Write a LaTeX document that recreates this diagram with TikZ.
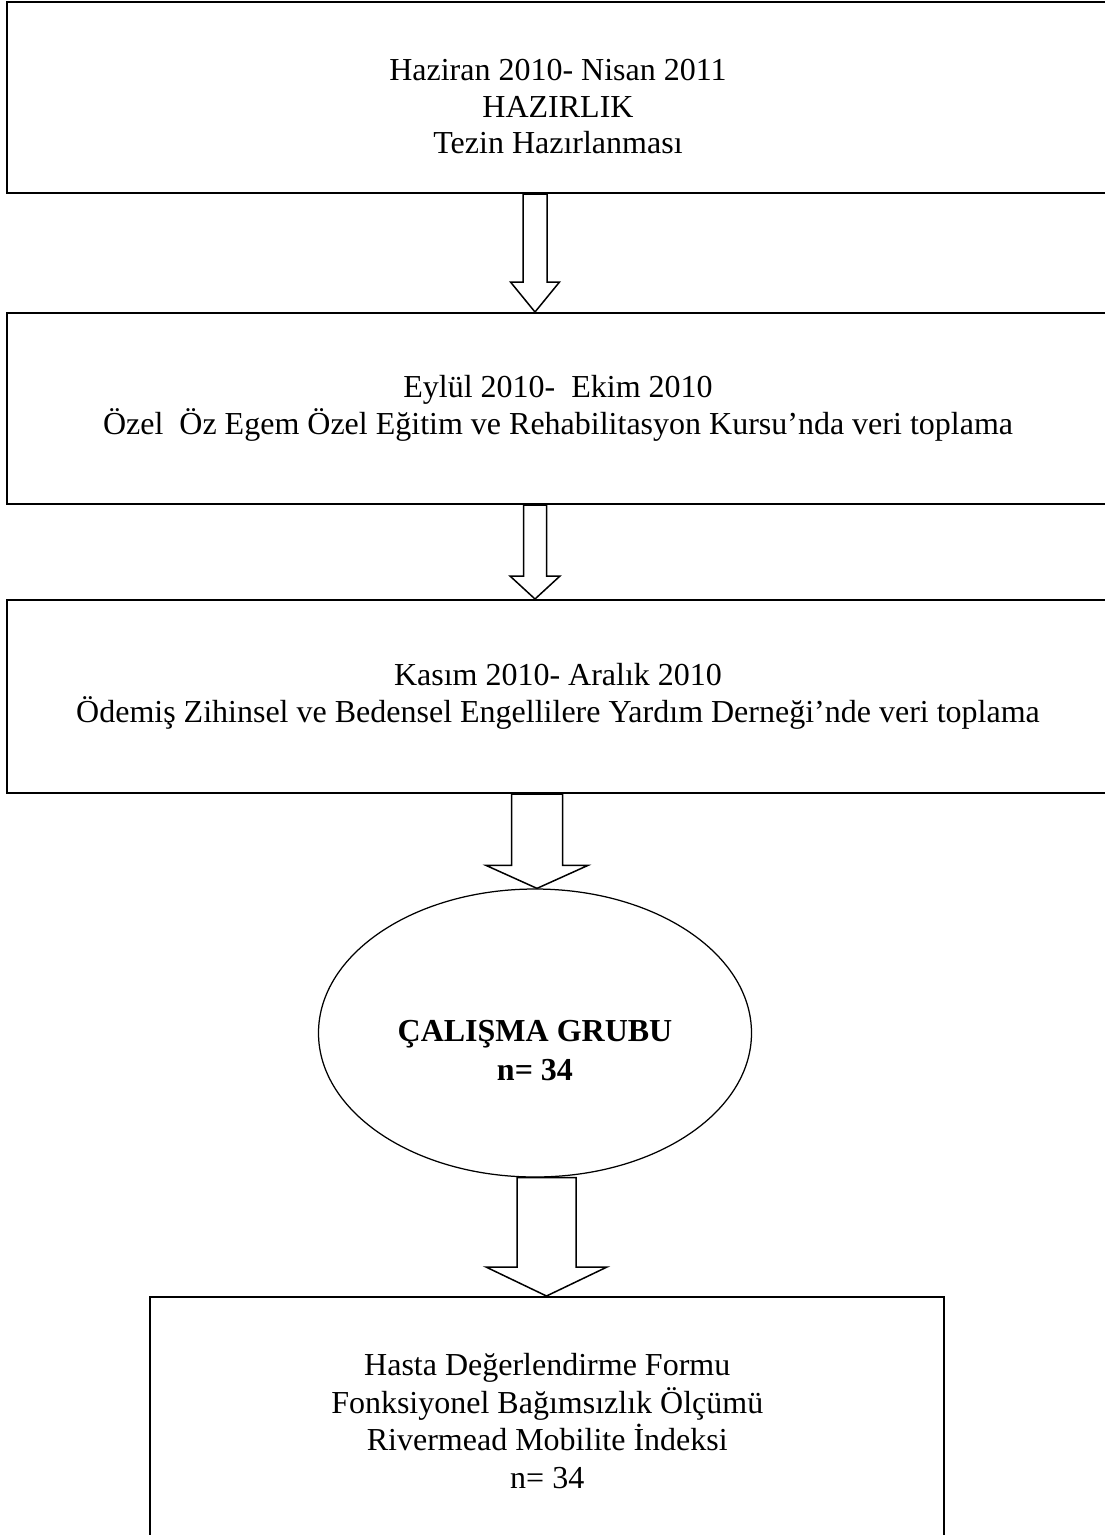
\documentclass[tikz,border=0pt]{standalone}
\usepackage{fontspec}
\setmainfont{Liberation Serif}
\usetikzlibrary{shapes.geometric}

\begin{document}
\begin{tikzpicture}[
  x=0.4pt, y=-0.4pt,
  font=\fontsize{12.8pt}{14.6pt}\selectfont,
  box/.style={draw, line width=0.8pt, align=center, inner sep=0pt},
  stage/.style={box, minimum width=440.8pt, minimum height=76.4pt},
  result/.style={box, minimum width=317.4pt, minimum height=99.2pt, font=\fontsize{12.8pt}{15pt}\selectfont},
  group/.style={draw, ellipse, line width=0.5pt, inner sep=0pt, minimum width=173.2pt, minimum height=115.2pt},
  grouptext/.style={align=center, inner sep=0pt, font=\fontsize{12.8pt}{15.6pt}\selectfont\bfseries},
  blockarrow/.style={draw, line width=0.6pt, fill=white, line join=miter}
]

\useasboundingbox (0,0) rectangle (1105,1535);
\fill[white] (0,0) rectangle (1105,1535);
\clip (0,0) rectangle (1105,1535);

% stages
\node[stage] (prep) at (558,97.5) {\rule{0pt}{16pt}Haziran 2010- Nisan 2011\\HAZIRLIK\\Tezin Hazırlanması};
\node[stage] (egem) at (558,408.5) {Eylül 2010-~ Ekim 2010\\Özel~ Öz Egem Özel Eğitim ve Rehabilitasyon Kursu’nda veri toplama};
\node[stage, minimum height=77.2pt] (odemis) at (558,696.5) {Kasım 2010- Aralık 2010\\Ödemiş Zihinsel ve Bedensel Engellilere Yardım Derneği’nde veri toplama};

% study group
\node[group] (grup) at (535,1033) {};
\node[grouptext] (gruptext) at (535,1051) {ÇALIŞMA GRUBU\\n= 34};

% measures
\node[result] (olcum) at (547.25,1421) {Hasta Değerlendirme Formu\\Fonksiyonel Bağımsızlık Ölçümü\\Rivermead Mobilite İndeksi\\n= 34};

% block arrows
\coordinate (a1top) at ([xshift=-9.2pt]prep.south);
\coordinate (a1tip) at (a1top |- egem.north);
\coordinate (a2top) at ([xshift=-9.2pt]egem.south);
\coordinate (a2tip) at (a2top |- odemis.north);
\coordinate (a3top) at ([xshift=-8.4pt]odemis.south);
\coordinate (a3tip) at (a3top |- grup.north);
\coordinate (a4top) at ([xshift=4.6pt]grup.south);
\coordinate (a4tip) at (a4top |- olcum.north);

\foreach \top/\tip/\s/\h/\l in {a1top/a1tip/4.8/9.8/12, a2top/a2tip/4.6/10/9.2,
    a3top/a3tip/10.2/20.4/9.2, a4top/a4tip/11.8/24.2/11.6}
  \draw[blockarrow] ([xshift=-\s pt]\top) -- ([xshift=-\s pt,yshift=\l pt]\tip)
    -- ([xshift=-\h pt,yshift=\l pt]\tip) -- (\tip)
    -- ([xshift=\h pt,yshift=\l pt]\tip) -- ([xshift=\s pt,yshift=\l pt]\tip)
    -- ([xshift=\s pt]\top) -- cycle;

\end{tikzpicture}
\end{document}
